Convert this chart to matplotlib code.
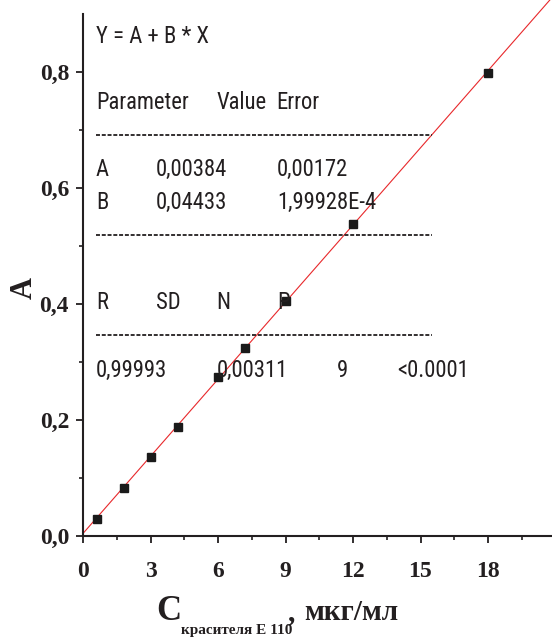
import matplotlib
matplotlib.use("Agg")
import matplotlib.pyplot as plt
from matplotlib import font_manager
import numpy as np

# ---- data ----
conc = [0.6, 1.8, 3.0, 4.2, 6.0, 7.2, 9.0, 12.0, 18.0]
absorb = [0.028, 0.083, 0.136, 0.187, 0.274, 0.323, 0.405, 0.537, 0.798]
fit_A = 0.00384
fit_B = 0.04433
x_ticks = [0, 3, 6, 9, 12, 15, 18]
x_ticklabels = ["0", "3", "6", "9", "12", "15", "18"]
y_ticks = [0.0, 0.2, 0.4, 0.6, 0.8]
y_ticklabels = ["0,0", "0,2", "0,4", "0,6", "0,8"]

W, H = 552, 638
fig = plt.figure(figsize=(W / 100, H / 100), dpi=100)
fig.patch.set_facecolor("white")

# choose a condensed sans if one is installed
names = {f.name for f in font_manager.fontManager.ttflist}
cands = ["Liberation Sans Narrow", "Roboto Condensed", "Open Sans Condensed",
         "DejaVu Sans Condensed", "Liberation Sans"]
sans_name = next((c for c in cands if c in names), "DejaVu Sans")
narrow = [sans_name, "DejaVu Sans"]

# measure width of a reference word to set a compromise font size
renderer = fig.canvas.get_renderer()
probe = fig.text(0, 0, "Parameter", family=narrow, fontsize=16)
wpx = probe.get_window_extent(renderer).width
probe.remove()
s_w = 16 * 80.0 / wpx
s_h = 18.0
ann_size = (s_w ** 0.4) * (s_h ** 0.6)

# axes layout (pixels)
x0px, y0px = 83, 535.7
px_per_x = 22.5
px_per_y = 580.0
xmax = (W - x0px) / px_per_x
ymax = 0.9
ax = fig.add_axes([x0px / W, (H - y0px) / H, (W - x0px) / W, ymax * px_per_y / H])
ax.set_xlim(0, xmax)
ax.set_ylim(0, ymax)
ink = "#231f20"
for s in ["top", "right"]:
    ax.spines[s].set_visible(False)
for s in ["left", "bottom"]:
    ax.spines[s].set_linewidth(1.5)
    ax.spines[s].set_color(ink)

serif = ["Liberation Serif", "DejaVu Serif"]

ax.set_xticks(x_ticks)
ax.set_xticklabels(x_ticklabels)
ax.set_yticks(y_ticks)
ax.set_yticklabels(y_ticklabels)
ax.set_xticks(np.arange(1.5, 21, 3), minor=True)
ax.set_yticks([0.1, 0.3, 0.5, 0.7], minor=True)
ax.tick_params(which="major", direction="out", length=5, width=1.3, color=ink)
ax.tick_params(which="minor", direction="out", length=3, width=1.2, color=ink)
ax.tick_params(axis="x", which="major", pad=13)
ax.tick_params(axis="y", which="major", pad=5)
for lab in ax.get_xticklabels() + ax.get_yticklabels():
    lab.set_fontfamily(serif)
    lab.set_fontweight("bold")
    lab.set_fontsize(17)
    lab.set_color(ink)

# fit line
xl = np.array([0.0, 21.0])
ax.plot(xl, fit_A + fit_B * xl, color="#e8282b", lw=0.8, clip_on=False, zorder=2)
# points
ax.plot(conc, absorb, ls="none", marker="s", ms=5.6, color="#1a1a1a", zorder=3)

def ft(xp, yp, s, **kw):
    fig.text(xp / W, 1 - yp / H, s, **kw)

tkw = dict(family=narrow, fontsize=ann_size, color=ink, va="baseline", ha="left")
ft(96, 42.7, "Y = A + B * X", **tkw)
ft(96, 109.3, "Parameter", **tkw)
ft(216.7, 109.3, "Value", **tkw)
ft(276.7, 109.3, "Error", **tkw)
ft(96, 176, "A", **tkw)
ft(156, 176, "0,00384", **tkw)
ft(277, 176, "0,00172", **tkw)
ft(96, 209, "B", **tkw)
ft(156, 209, "0,04433", **tkw)
ft(277, 209, "1,99928E-4", **tkw)
ft(96, 309, "R", **tkw)
ft(156, 309, "SD", **tkw)
ft(216.7, 309, "N", **tkw)
ft(277, 309, "P", **tkw)
ft(96, 376.7, "0,99993", **tkw)
ft(216.7, 376.7, "0,00311", **tkw)
ft(336.7, 376.7, "9", **tkw)
ft(397.3, 376.7, "<0.0001", **tkw)

for yp in [135, 235, 335]:
    fig.add_artist(plt.Line2D([96 / W, 432 / W], [1 - yp / H, 1 - yp / H],
                              color=ink, lw=1.3, ls=(0, (2.2, 1.0))))

# axis labels
ft(24, 288, "A", family=serif, fontweight="bold", fontsize=22, color=ink,
   rotation=90, ha="center", va="center")
ft(169, 620, "C", family=serif, fontweight="bold", fontsize=25, color=ink,
   ha="center", va="baseline")
ft(181, 634, "красителя Е 110", family=serif, fontweight="bold", fontsize=11,
   color=ink, ha="left", va="baseline")
ft(288, 620, ",", family=serif, fontweight="bold", fontsize=21,
   color=ink, ha="left", va="baseline")
ft(304, 620, "мкг/мл", family=serif, fontweight="bold", fontsize=21,
   color=ink, ha="left", va="baseline")

fig.savefig("out.png", dpi=100, facecolor="white")
